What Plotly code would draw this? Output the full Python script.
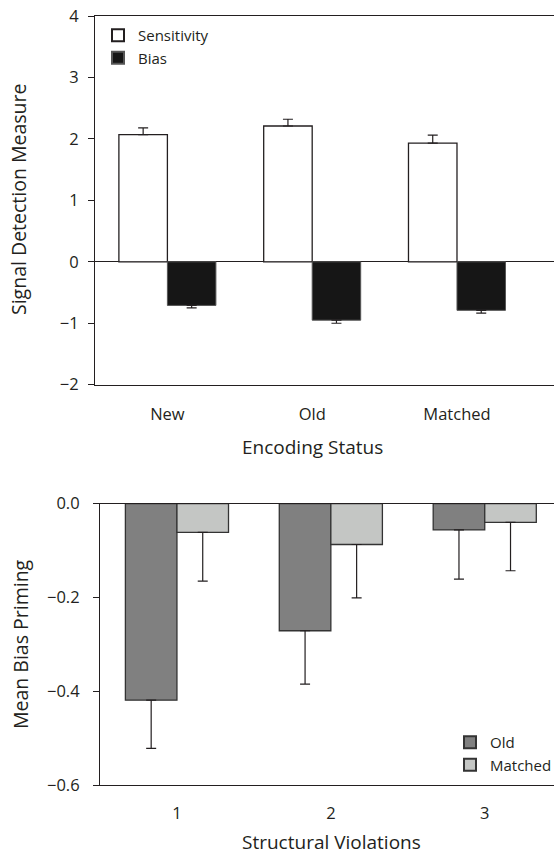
import plotly.graph_objects as go

# ---- data: top panel ----
encoding = ["New", "Old", "Matched"]
sensitivity = [2.07, 2.21, 1.93]
sensitivity_err = [0.11, 0.11, 0.13]
bias = [-0.71, -0.95, -0.79]
bias_err = [0.04, 0.05, 0.045]
top_yticks = [-2, -1, 0, 1, 2, 3, 4]
top_yticklabels = ["\u22122", "\u22121", "0", "1", "2", "3", "4"]

# ---- data: bottom panel ----
violations = ["1", "2", "3"]
old_priming = [-0.419, -0.271, -0.056]
old_err = [0.103, 0.114, 0.105]
matched_priming = [-0.061, -0.087, -0.040]
matched_err = [0.104, 0.114, 0.103]
bot_yticks = [-0.6, -0.4, -0.2, 0.0]
bot_yticklabels = ["\u22120.6", "\u22120.4", "\u22120.2", "0.0"]

FONT = "Open Sans"
INK = "#231f20"
W, H = 554, 856

fig = go.Figure()

fig.add_trace(go.Bar(
    x=encoding, y=sensitivity, name="Sensitivity",
    marker=dict(color="white", line=dict(color=INK, width=1.3)),
    error_y=dict(type="data", symmetric=False, array=sensitivity_err,
                 arrayminus=[0] * len(sensitivity_err), color=INK, thickness=1.2, width=5),
    xaxis="x", yaxis="y", legend="legend",
))
fig.add_trace(go.Bar(
    x=encoding, y=bias, name="Bias",
    marker=dict(color="#161616", line=dict(color="#555", width=1)),
    error_y=dict(type="data", symmetric=False, array=[0] * len(bias_err),
                 arrayminus=bias_err, color=INK, thickness=1.2, width=5),
    xaxis="x", yaxis="y", legend="legend",
))

fig.add_trace(go.Bar(
    x=violations, y=old_priming, name="Old",
    marker=dict(color="#808080", line=dict(color="#333", width=1.3)),
    error_y=dict(type="data", symmetric=False, array=[0] * 3,
                 arrayminus=old_err, color=INK, thickness=1.2, width=5),
    xaxis="x2", yaxis="y2", legend="legend2",
))
fig.add_trace(go.Bar(
    x=violations, y=matched_priming, name="Matched",
    marker=dict(color="#c4c6c4", line=dict(color="#333", width=1.3)),
    error_y=dict(type="data", symmetric=False, array=[0] * 3,
                 arrayminus=matched_err, color=INK, thickness=1.2, width=5),
    xaxis="x2", yaxis="y2", legend="legend2",
))

axis_common = dict(showgrid=False, linecolor=INK, linewidth=1.2, automargin=False,
                   tickfont=dict(family=FONT, size=16.5, color=INK), color=INK)
xtitle_font = dict(family=FONT, size=19, color=INK)
ytitle_font = dict(family=FONT, size=19.5, color=INK)


def px_x(x):
    return x / W


def px_y(y):
    return 1 - y / H


fig.update_layout(
    width=W, height=H,
    margin=dict(l=0, r=0, t=0, b=0, autoexpand=False),
    paper_bgcolor="white", plot_bgcolor="white",
    barmode="group", bargap=0.33,
    font=dict(family=FONT, color=INK),
    xaxis=dict(domain=[px_x(95), 1.0], anchor="y", range=[-0.5, 2.67],
               showline=True, mirror=True, ticks="outside", ticklen=0,
               ticklabelstandoff=14, **axis_common),
    yaxis=dict(domain=[px_y(384.7), px_y(16)], anchor="x", range=[-2, 4],
               tickvals=top_yticks, ticktext=top_yticklabels,
               showline=True, ticks="outside", ticklen=6, tickcolor=INK,
               ticklabelstandoff=6,
               zeroline=True, zerolinecolor=INK, zerolinewidth=1.2, **axis_common),
    xaxis2=dict(domain=[px_x(100), 1.0], anchor="y2", range=[-0.5, 2.45],
                showline=True, mirror=True, ticks="outside", ticklen=0,
                ticklabelstandoff=13, **axis_common),
    yaxis2=dict(domain=[px_y(785), px_y(503.7)], anchor="x2", range=[-0.6, 0.0],
                tickvals=bot_yticks, ticktext=bot_yticklabels,
                showline=True, ticks="outside", ticklen=6, tickcolor=INK,
                ticklabelstandoff=10, zeroline=False, **axis_common),
    legend=dict(x=px_x(98), y=px_y(19), xanchor="left", yanchor="top",
                bgcolor="rgba(0,0,0,0)", font=dict(family=FONT, size=15, color=INK),
                itemsizing="constant", tracegroupgap=0),
    legend2=dict(x=px_x(450), y=px_y(726), xanchor="left", yanchor="top",
                 bgcolor="rgba(0,0,0,0)", font=dict(family=FONT, size=15, color=INK),
                 itemsizing="constant", tracegroupgap=0),
    annotations=[
        dict(text="Signal Detection Measure", xref="paper", yref="paper",
             x=px_x(18), y=px_y(200), textangle=-90, showarrow=False,
             xanchor="center", yanchor="middle", font=ytitle_font),
        dict(text="Encoding Status", xref="paper", yref="paper",
             x=px_x(312), y=px_y(447), showarrow=False,
             xanchor="center", yanchor="middle", font=xtitle_font),
        dict(text="Mean Bias Priming", xref="paper", yref="paper",
             x=px_x(20), y=px_y(644), textangle=-90, showarrow=False,
             xanchor="center", yanchor="middle", font=ytitle_font),
        dict(text="Structural Violations", xref="paper", yref="paper",
             x=px_x(331), y=px_y(842), showarrow=False,
             xanchor="center", yanchor="middle", font=xtitle_font),
    ],
)

fig.write_html("out.html", config={"displayModeBar": False},
               post_script="document.body.style.margin='0';document.body.style.overflow='hidden';")
